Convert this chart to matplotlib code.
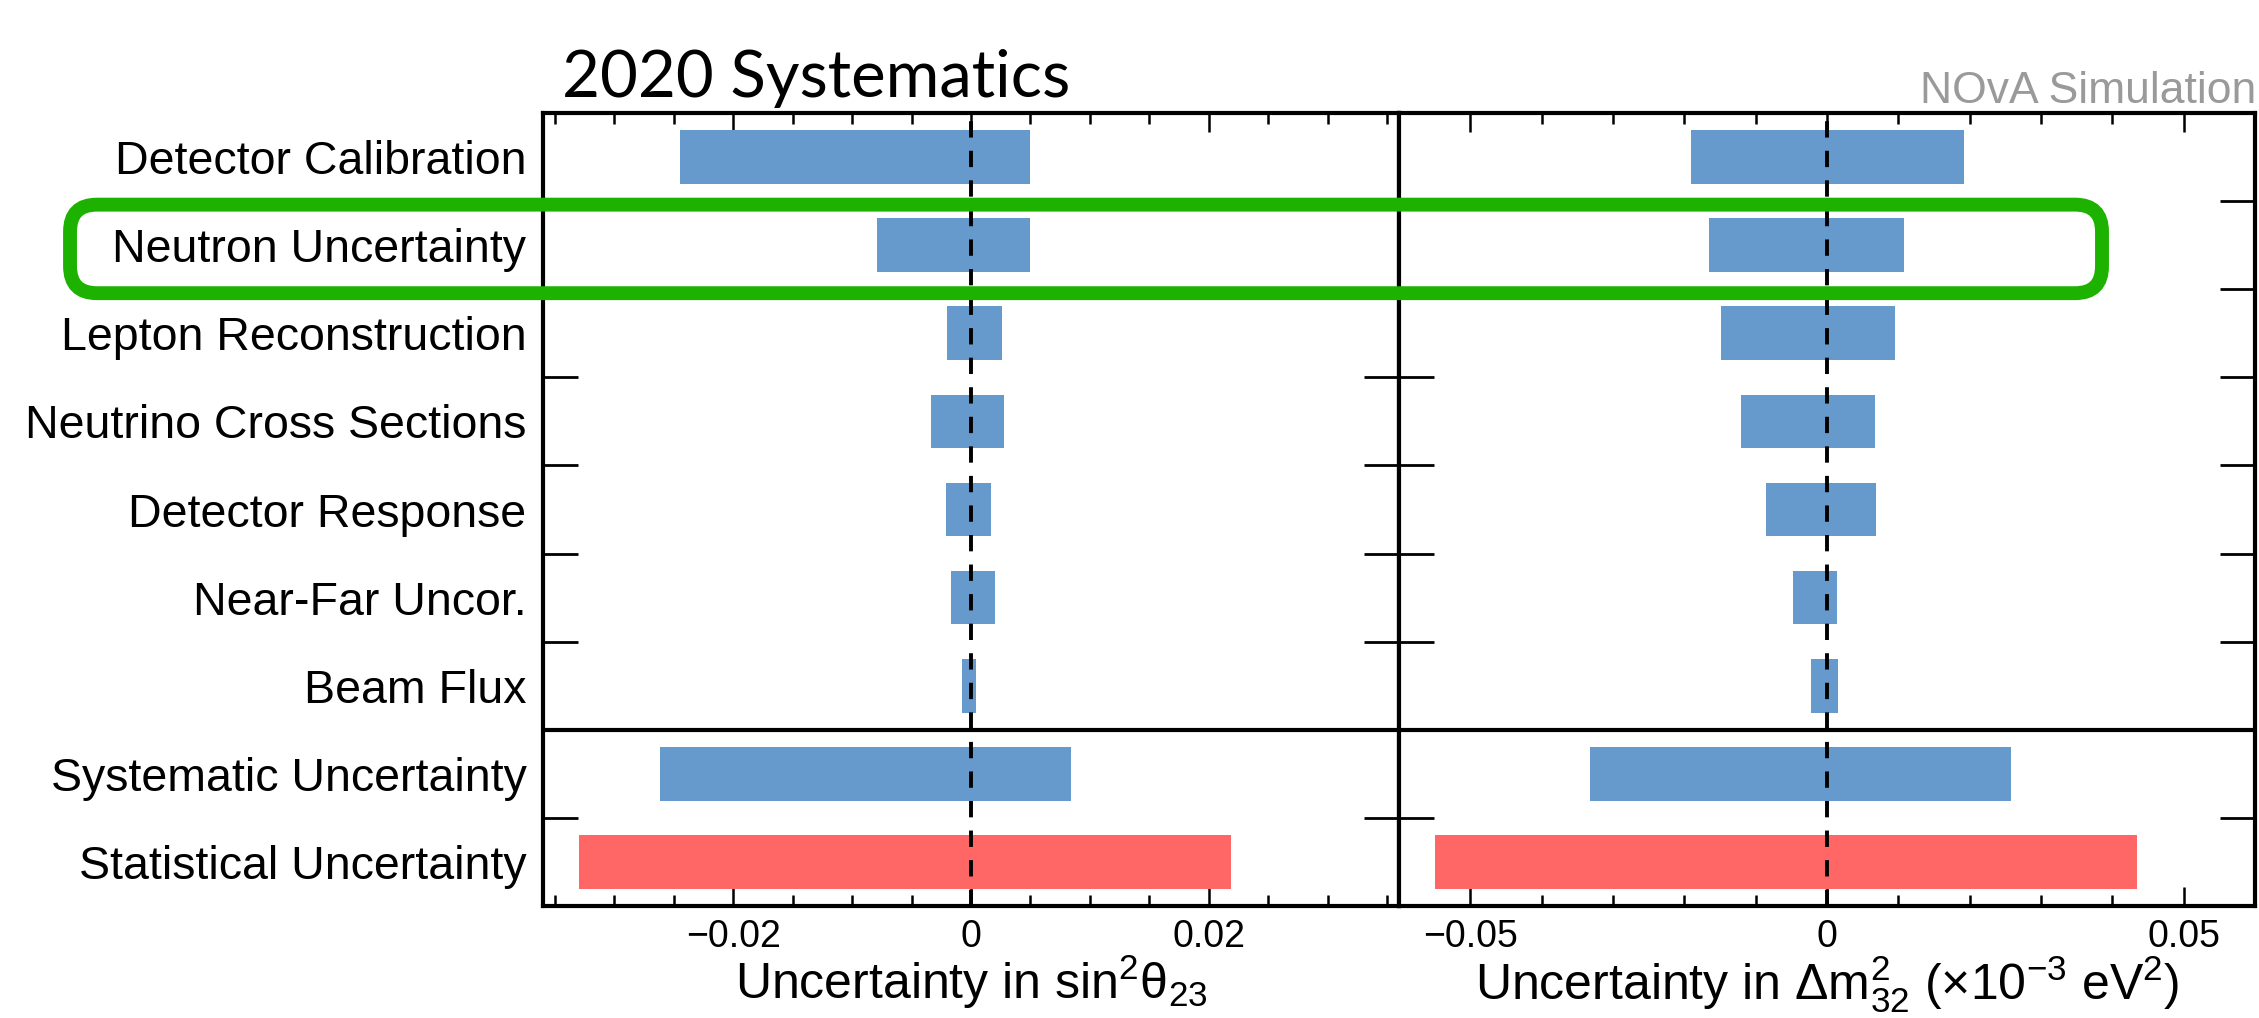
import numpy as np
import matplotlib.pyplot as plt
from matplotlib.patches import FancyBboxPatch
from matplotlib.transforms import IdentityTransform

plt.rcParams['font.family'] = ['Liberation Sans', 'DejaVu Sans']
plt.rcParams['mathtext.fontset'] = 'custom'
plt.rcParams['mathtext.rm'] = 'Liberation Sans'
plt.rcParams['mathtext.it'] = 'Liberation Sans:italic'
plt.rcParams['mathtext.bf'] = 'Liberation Sans:bold'

##Systematic sources, top to bottom
labels = ["Detector Calibration", "Neutron Uncertainty", "Lepton Reconstruction",
          "Neutrino Cross Sections", "Detector Response", "Near-Far Uncor.",
          "Beam Flux", "Systematic Uncertainty", "Statistical Uncertainty"]

##Shifts in sin^2(theta_23): low side / high side
th23_lo = [-0.0245, -0.0079, -0.0020, -0.0034, -0.0021, -0.0017, -0.0008, -0.0262, -0.0330]
th23_hi = [0.0050, 0.0050, 0.0026, 0.0028, 0.0017, 0.0020, 0.0004, 0.0084, 0.0219]

##Shifts in dm^2_32 (x1e-3 eV^2)
dm32_lo = [-0.0190, -0.0165, -0.0149, -0.0120, -0.0085, -0.0048, -0.0023, -0.0332, -0.0549]
dm32_hi = [0.0192, 0.0108, 0.0095, 0.0067, 0.0069, 0.0014, 0.0015, 0.0258, 0.0435]

colors = ['#6699cc'] * 8 + ['#ff6666']

fig = plt.figure(figsize=(22.59, 10.18), dpi=100)
ax1 = fig.add_axes([0.2404, 0.110, 0.3789, 0.779])
ax2 = fig.add_axes([0.6193, 0.110, 0.3789, 0.779])
ypos = np.arange(len(labels))[::-1]


def draw_panel(ax, lo, hi, xlim, major, ticklabels, minor, xlabel):
    lo = np.array(lo)
    hi = np.array(hi)
    ax.barh(ypos, hi - lo, left=lo, height=0.61, color=colors, zorder=2)
    ax.axvline(0, color='k', lw=2.8, ls=(0, (4.2, 3.4)), zorder=3)
    ax.axhline(1.5, color='k', lw=3, zorder=3)          ##split sources / totals
    ax.set_xlim(*xlim)
    ax.set_ylim(-0.5, 8.5)
    ax.set_xticks(major)
    ax.set_xticklabels(ticklabels)
    ax.set_xticks(minor, minor=True)
    ax.set_yticks(ypos)
    ax.set_yticks(np.arange(0.5, 8, 1), minor=True)
    ax.tick_params(axis='x', which='both', direction='in', top=True, bottom=True,
                   labelsize=27, pad=9, width=1.8)
    ax.tick_params(axis='x', which='major', length=14)
    ax.tick_params(axis='x', which='minor', length=8)
    ax.tick_params(axis='y', which='major', length=0, labelsize=33.5, pad=12)
    ax.tick_params(axis='y', which='minor', direction='in', left=True, right=True,
                   length=25, width=2)
    for s in ax.spines.values():
        s.set_linewidth(3)
    ax.set_xlabel(xlabel, fontsize=36, labelpad=-1)


draw_panel(ax1, th23_lo, th23_hi, (-0.036, 0.036), [-0.02, 0, 0.02],
           ['\u22120.02', '0', '0.02'], np.arange(-0.035, 0.0351, 0.005),
           'Uncertainty in sin$^{2}$\u03b8$_{23}$')
draw_panel(ax2, dm32_lo, dm32_hi, (-0.06, 0.06), [-0.05, 0, 0.05],
           ['\u22120.05', '0', '0.05'], np.arange(-0.06, 0.0601, 0.01),
           'Uncertainty in \u0394$\\mathrm{m}^{2}_{32}$ (\u00d710$^{-3}$ eV$^{2}$)')
ax1.set_yticklabels(labels)
ax2.set_yticklabels([])

##Highlight box round the neutron row
x0 = 0.031 * fig.bbox.width
x1 = 0.9305 * fig.bbox.width
y_top = ax1.transData.transform((0, 7.46))[1]
y_bot = ax1.transData.transform((0, 6.455))[1]
box = FancyBboxPatch((x0, y_bot), x1 - x0, y_top - y_bot,
                     boxstyle='round,pad=0,rounding_size=27',
                     transform=IdentityTransform(), fill=False,
                     ec='#1db100', lw=10, zorder=10)
fig.add_artist(box)

fig.text(0.249, 0.905, '2020 Systematics', family='Lato', fontsize=47,
         ha='left', va='baseline')
fig.text(0.999, 0.899, 'NOvA Simulation', color='#9a9a9a', fontsize=32,
         ha='right', va='baseline')

fig.savefig('out.png', dpi=100)
